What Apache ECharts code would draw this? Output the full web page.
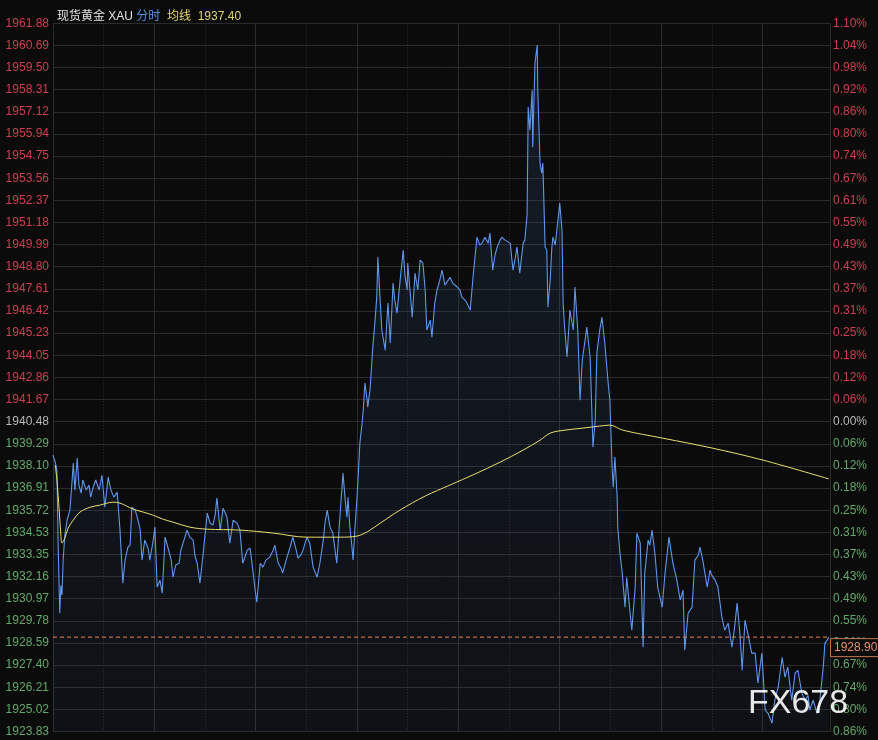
<!DOCTYPE html>
<html><head><meta charset="utf-8">
<script src="https://cdn.jsdelivr.net/npm/echarts@6.0.0/dist/echarts.min.js"></script>
<style>html,body{margin:0;padding:0;background:#0b0b0b}#c{width:878px;height:740px}</style>
</head><body><div id="c"></div>
<script>
// tick labels (top to bottom)
const priceTicks = ['1961.88','1960.69','1959.50','1958.31','1957.12','1955.94','1954.75','1953.56','1952.37','1951.18','1949.99','1948.80','1947.61','1946.42','1945.23','1944.05','1942.86','1941.67','1940.48','1939.29','1938.10','1936.91','1935.72','1934.53','1933.35','1932.16','1930.97','1929.78','1928.59','1927.40','1926.21','1925.02','1923.83'];
const pctTicks = ['1.10%','1.04%','0.98%','0.92%','0.86%','0.80%','0.74%','0.67%','0.61%','0.55%','0.49%','0.43%','0.37%','0.31%','0.25%','0.18%','0.12%','0.06%','0.00%','0.06%','0.12%','0.18%','0.25%','0.31%','0.37%','0.43%','0.49%','0.55%','0.61%','0.67%','0.74%','0.80%','0.86%'];
const prevClose = 1940.48;

// time in minutes since session open, price
const timeMin = [
0,4,7,9,11,12,14,16,18,21,
25,30,34,36,39,43,46,50,53,59,
64,67,71,76,82,87,92,98,103,108,
114,119,124,128,133,137,140,146,151,155,
158,163,169,172,178,181,185,190,194,199,
204,210,213,218,224,227,231,238,243,249,
252,256,261,266,270,274,279,284,288,291,
297,302,309,314,320,327,332,337,345,350,
355,359,362,368,373,378,385,391,394,400,
405,408,414,421,426,432,435,440,444,451,
456,462,469,474,480,483,487,492,497,504,
510,515,519,522,524,527,531,533,536,540,
545,549,551,554,558,559,563,568,572,575,
577,581,584,590,593,595,599,604,607,611,
616,622,625,629,630,634,638,643,648,652,
657,661,664,670,673,678,682,687,691,696,
702,705,710,718,723,726,732,735,741,746,
749,753,758,762,767,773,776,781,785,789,
794,797,803,806,812,817,821,824,829,835,
838,842,844,847,851,852,856,860,861,865,
868,870,874,877,879,883,886,888,892,895,
900,904,906,909,913,918,924,927,932,936,
940,945,948,954,959,963,966,971,975,980,
986,989,993,995,998,1002,1003,1007,1011,1016,
1019,1025,1028,1034,1037,1043,1048,1051,1057,1060,
1064,1069,1074,1082,1087,1094,1101,1108,1114,1119,
1122,1128,1135,1140,1146,1149,1154,1162,1167,1170,
1176,1181,1188,1193,1199,1206,1211,1215,1220,1224,
1229,1234,1241,1247,1252,1259,1265,1270,1277,1282,
1288,1295,1300,1305,1312,1318,1323,1330,1336,1341,
1344,1350,1357,1362,1368,1371,1375,1378];
const price = [
1938.68,1938.30,1937.87,1934.11,1931.42,1930.19,1931.69,1931.16,1933.04,1934.38,
1935.19,1935.72,1937.34,1938.25,1936.80,1938.52,1937.07,1936.64,1937.34,1936.80,
1937.07,1936.42,1936.91,1937.34,1936.80,1937.60,1935.88,1937.50,1936.80,1936.42,
1936.69,1934.65,1931.80,1933.04,1933.73,1933.84,1935.88,1935.72,1935.19,1934.65,
1933.04,1934.11,1933.68,1933.04,1934.11,1934.81,1931.59,1931.96,1931.26,1934.27,
1933.73,1933.04,1932.12,1932.77,1932.87,1933.57,1933.95,1934.65,1934.27,1934.11,
1933.30,1932.87,1931.80,1933.20,1934.38,1935.56,1935.02,1934.92,1935.45,1936.37,
1934.65,1935.83,1935.35,1933.95,1935.19,1935.02,1934.65,1932.87,1933.57,1933.68,
1932.50,1931.42,1930.78,1932.87,1932.66,1933.04,1933.20,1933.57,1933.84,1932.87,
1932.61,1932.34,1933.04,1933.73,1934.27,1933.57,1933.14,1933.30,1933.57,1934.27,
1933.95,1932.66,1932.12,1932.87,1934.11,1935.02,1935.72,1934.81,1934.49,1932.87,
1935.56,1937.71,1936.26,1935.35,1936.42,1934.92,1933.73,1933.04,1934.65,1936.42,
1939.32,1940.40,1941.10,1942.55,1941.63,1941.26,1942.17,1944.48,1945.93,1947.17,
1949.32,1947.01,1945.40,1944.32,1945.93,1946.85,1944.70,1947.92,1947.01,1946.31,
1947.92,1949.70,1948.35,1947.55,1949.00,1947.55,1946.09,1948.46,1947.55,1949.16,
1949.00,1947.55,1945.40,1945.93,1945.02,1946.85,1947.55,1948.08,1948.62,1947.81,
1948.08,1948.24,1947.92,1947.71,1947.55,1947.17,1947.01,1946.85,1946.47,1948.24,
1949.16,1950.39,1949.96,1950.07,1950.39,1950.07,1950.61,1948.62,1949.43,1949.86,
1950.23,1950.39,1950.23,1950.23,1950.07,1948.62,1949.27,1949.86,1948.46,1950.07,
1950.23,1951.58,1957.38,1956.14,1958.29,1955.23,1959.74,1960.71,1958.29,1954.37,
1953.83,1954.37,1949.86,1949.70,1946.63,1948.08,1949.86,1950.39,1949.96,1949.86,
1952.22,1950.77,1946.85,1945.40,1943.95,1946.47,1945.40,1947.71,1945.40,1941.63,
1943.78,1944.86,1945.56,1943.95,1939.11,1940.56,1944.16,1945.40,1946.09,1944.70,
1942.55,1941.63,1938.03,1936.96,1938.57,1936.42,1934.81,1933.41,1932.34,1930.51,
1932.12,1930.19,1929.27,1931.59,1934.49,1933.95,1928.36,1932.34,1934.11,1933.84,
1934.65,1933.41,1931.59,1930.51,1932.34,1934.27,1932.87,1931.96,1930.89,1931.42,
1928.20,1930.19,1930.51,1933.04,1933.30,1933.73,1933.04,1931.59,1932.50,1932.23,
1931.96,1931.59,1929.97,1929.27,1929.65,1928.36,1929.54,1930.73,1929.11,1927.12,
1929.81,1929.11,1928.04,1928.04,1926.43,1928.04,1924.98,1924.81,1924.28,1925.51,
1926.21,1927.82,1926.75,1927.29,1925.51,1926.96,1927.12,1925.89,1925.51,1925.78,
1924.98,1925.51,1924.81,1925.51,1927.29,1928.58,1928.74,1928.90];

// average line
const avgTime = [4,7,11,14,16,21,27,36,48,66,83,107,119,131,142,160,178,195,213,243,274,332,391,451,510,540,554,563,581,616,661,705,749,794,835,865,883,909,941,971,989,1012,1083,1172,1261,1378];
const avgPrice = [1938.14,1937.34,1935.72,1934.38,1933.95,1934.22,1934.76,1935.19,1935.62,1935.88,1935.99,1936.15,1936.10,1935.94,1935.78,1935.62,1935.45,1935.24,1935.08,1934.81,1934.70,1934.65,1934.49,1934.27,1934.27,1934.33,1934.49,1934.65,1935.02,1935.72,1936.48,1937.07,1937.66,1938.30,1938.95,1939.48,1939.86,1940.02,1940.13,1940.24,1940.29,1940.02,1939.59,1939.05,1938.41,1937.40];

const RED = '#cc4050', GREEN = '#62a869', GRAY = '#b8b8b8';
const FONT = '"Liberation Sans", Arial, "Noto Sans CJK SC", sans-serif';
const lastPrice = price[price.length - 1];
const lastAvg = avgPrice[avgPrice.length - 1];
const baseIdx = priceTicks.indexOf(prevClose.toFixed(2));
const X_MAX = 1380;

const chart = echarts.init(document.getElementById('c'), null, {renderer: 'canvas'});
const gridLine = '#2b2b2b';
const dottedColors = [];
for (let t = 0; t <= X_MAX; t += 90) dottedColors.push((t % 180 === 90 && t < 1350) ? '#2e2e2e' : 'rgba(0,0,0,0)');
dottedColors.push('rgba(0,0,0,0)');

chart.setOption({
  backgroundColor: '#0b0b0b',
  animation: false,
  title: {
    left: 52, top: 6,
    text: '{w|现货黄金 XAU} {b|分时}  {y|均线}  {y|' + lastAvg.toFixed(2) + '}',
    textStyle: {
      fontSize: 12, fontFamily: FONT, fontWeight: 'normal',
      rich: {
        w: {color: '#e2e2e2', fontSize: 12, fontFamily: FONT, fontWeight: 'normal'},
        b: {color: '#5b8fe6', fontSize: 12, fontFamily: FONT, fontWeight: 'normal'},
        y: {color: '#e4d56a', fontSize: 12, fontFamily: FONT, fontWeight: 'normal'}
      }
    }
  },
  grid: {left: 53, right: 48, top: 23.3, bottom: 8.5, containLabel: false},
  xAxis: [
    {type: 'value', min: 0, max: X_MAX, interval: 180,
     axisLabel: {show: false}, axisTick: {show: false}, axisLine: {show: false},
     splitLine: {show: true, lineStyle: {color: gridLine, width: 1}}},
    {type: 'value', min: 0, max: X_MAX, interval: 90,
     axisLabel: {show: false}, axisTick: {show: false}, axisLine: {show: false},
     splitLine: {show: true, lineStyle: {color: dottedColors, width: 1, type: [1, 2]}}}
  ],
  yAxis: [
    {type: 'value', min: 1923.83, max: 1961.88, show: false},
    {type: 'category', position: 'left', inverse: true, boundaryGap: false, data: priceTicks,
     axisLine: {show: false}, axisTick: {show: false},
     splitLine: {show: true, interval: 0, lineStyle: {color: gridLine, width: 1}},
     axisLabel: {interval: 0, margin: 4, fontSize: 12, fontFamily: FONT,
       color: function (v) { const n = parseFloat(v); return n > prevClose ? RED : (n < prevClose ? GREEN : GRAY); }}},
    {type: 'category', position: 'right', inverse: true, boundaryGap: false, data: pctTicks,
     axisLine: {show: false}, axisTick: {show: false}, splitLine: {show: false},
     axisLabel: {interval: 0, margin: 3, fontSize: 12, fontFamily: FONT,
       color: function (v, i) { return i < baseIdx ? RED : (i > baseIdx ? GREEN : GRAY); }}}
  ],
  series: [
    {type: 'line', name: '分时', xAxisIndex: 0, yAxisIndex: 0, symbol: 'none',
     data: price.map((p, i) => [timeMin[i], p]),
     lineStyle: {color: '#5f96ea', width: 1.1},
     areaStyle: {origin: 'start', color: new echarts.graphic.LinearGradient(0, 0, 0, 1, [
       {offset: 0, color: 'rgba(70,120,190,0.22)'}, {offset: 1, color: 'rgba(70,120,190,0.08)'}])}
    },
    {type: 'line', name: '均线', xAxisIndex: 0, yAxisIndex: 0, symbol: 'none', smooth: 0.35,
     data: avgPrice.map((p, i) => [avgTime[i], p]),
     lineStyle: {color: '#e8df6e', width: 1}},
    {type: 'line', name: 'last', xAxisIndex: 0, yAxisIndex: 0, symbol: 'none', silent: true, z: 5,
     data: [[0, lastPrice], [X_MAX, lastPrice]],
     lineStyle: {color: '#e8855a', width: 1, type: [4, 3]}}
  ]
});

const py = chart.convertToPixel({yAxisIndex: 0}, lastPrice);
chart.setOption({
  graphic: [
    {type: 'rect', shape: {x: 830.5, y: py + 1.5, width: 52, height: 18},
     style: {fill: '#0b0b0b', stroke: '#c0784e', lineWidth: 1}, z: 100},
    {type: 'text', x: 834, y: py + 11, z: 101,
     style: {text: lastPrice.toFixed(2), fill: '#e8906a', font: '12px ' + FONT, textVerticalAlign: 'middle'}},
    {type: 'text', x: 748, y: 704, z: 102,
     style: {text: 'FX678', fill: 'rgba(255,255,255,0.9)', font: '34px ' + FONT, textVerticalAlign: 'middle'}}
  ]
});
</script></body></html>
